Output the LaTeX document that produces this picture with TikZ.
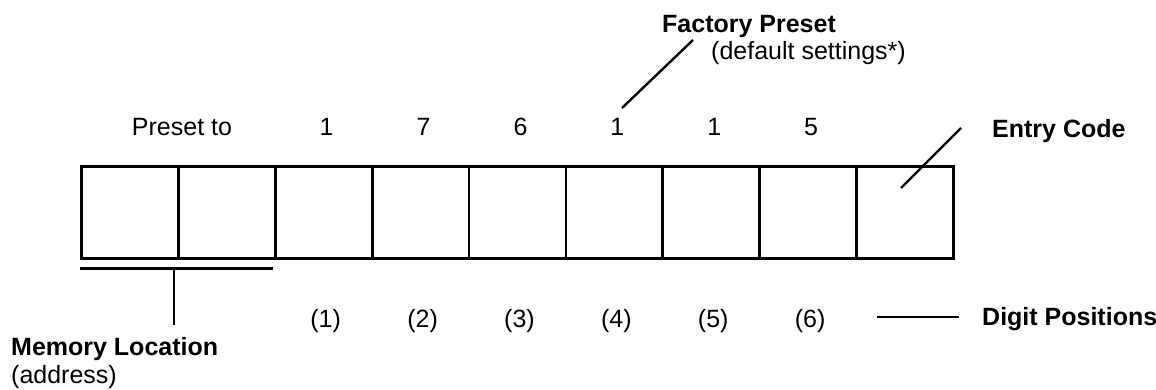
\documentclass[tikz,border=0pt]{standalone}
\usepackage{fontspec}
\setmainfont{Liberation Sans}
\usetikzlibrary{calc}
\begin{document}
\begin{tikzpicture}[x=1pt,y=-1pt,
  cell/.style={draw, line width=2.8pt, minimum width=96.9pt, minimum height=92pt,
               inner sep=0pt, anchor=north west},
  lbl/.style={font=\fontsize{25}{29}\selectfont, inner sep=0pt, anchor=base},
  blbl/.style={font=\fontsize{25}{29}\selectfont\bfseries, inner sep=0pt, anchor=base west},
  lead/.style={line width=2.4pt}]
\useasboundingbox (0,0) rectangle (1156,390);

% row of nine cells
\foreach \i in {1,...,9}{
  \node[cell] (b\i) at ({80+(\i-1)*96.9},165) {};
}

% values printed above the cells
\node[lbl] (pre) at (182,136) {Preset to};
\foreach \i/\d in {3/1,4/7,5/6,6/1,7/1,8/5}{
  \node[lbl] (v\i) at ($(b\i.north)+(3,-29)$) {\d};
}

% digit position numbers below the cells
\foreach \i/\d in {3/1,4/2,5/3,6/4,7/5,8/6}{
  \node[lbl] (p\i) at ($(b\i.south)+(2,68)$) {(\d)};
}

% labels
\node[blbl] (fp) at (662,33) {Factory Preset};
\node[lbl, anchor=base west] (ds) at (711,60) {(default settings*)};
\node[blbl] (ec) at (992,138) {Entry Code};
\node[blbl] (dp) at (982,325) {Digit Positions};
\node[blbl] (ml) at (11,355) {Memory Location};
\node[lbl, anchor=base west] (ad) at (11,383) {(address)};

% leader lines
\coordinate (fpA) at (622,108);
\coordinate (fpB) at (693,40);
\draw[lead] (fpA) -- (fpB);

\coordinate (ecA) at (901,188);
\coordinate (ecB) at (961,128);
\draw[lead] (ecA) -- (ecB);

\coordinate (dpA) at (877,317);
\coordinate (dpB) at (959,317);
\draw[lead] (dpA) -- (dpB);

% bracket under the memory location cells
\coordinate (brL) at (80,268);
\coordinate (brR) at (273,268);
\coordinate (brM) at (174,268);
\coordinate (brE) at (174,325);
\draw[line width=3pt] (brL) -- (brR);
\draw[lead] (brM) -- (brE);
\end{tikzpicture}
\end{document}
